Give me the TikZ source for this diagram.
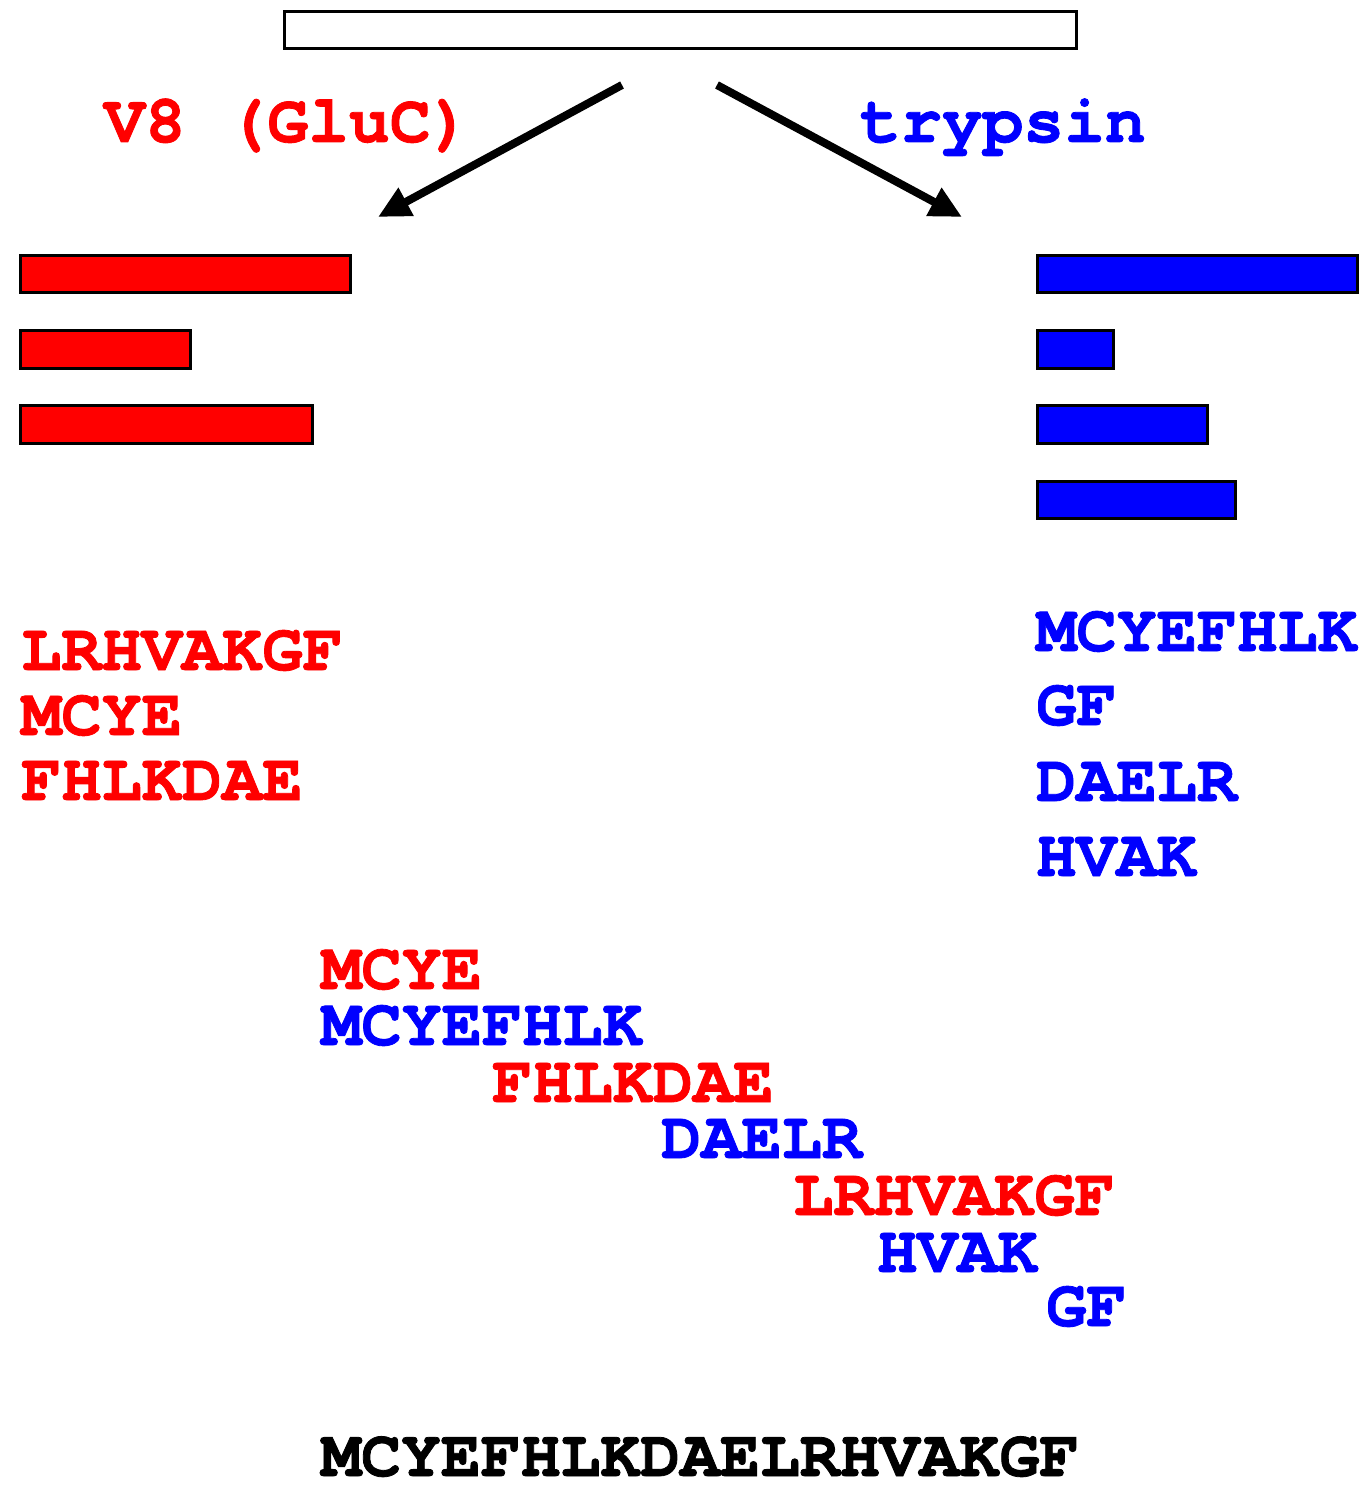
\documentclass[tikz,border=0pt]{standalone}
\usepackage{fontspec}
\usetikzlibrary{arrows.meta}
\newfontfamily\cur{texgyrecursor}[Extension=.otf, UprightFont=*-regular, BoldFont=*-bold, BoldFeatures={FakeBold=1.2}]
\definecolor{vred}{RGB}{255,0,0}
\definecolor{tblue}{RGB}{0,0,255}
\begin{document}
\begin{tikzpicture}[x=1pt,y=-1pt,
  seq/.style={anchor=base west, inner sep=0pt, font=\cur\bfseries\fontsize{67}{67}\selectfont},
  lbl/.style={anchor=base west, inner sep=0pt, font=\cur\bfseries\fontsize{68}{68}\selectfont},
  redseq/.style={seq, text=vred},
  blueseq/.style={seq, text=tblue},
  blackseq/.style={seq, text=black},
  redbar/.style={draw=black, line width=3pt, fill=vred},
  bluebar/.style={draw=black, line width=3pt, fill=tblue},
  cut/.style={line width=8pt, -{Triangle[length=32pt,width=30pt]}}]
\useasboundingbox (0,0) rectangle (1364,1485);
% protein
\node[draw=black, line width=3pt, inner sep=0pt, minimum width=792pt, minimum height=37pt, anchor=north west] (prot) at (283,10) {};
% arrows
\coordinate (sL) at (622,85);
\coordinate (sR) at (717,85);
\coordinate (eL) at (378,217);
\coordinate (eR) at (962,217);
\draw[cut] (sL) -- (eL);
\draw[cut] (sR) -- (eR);
% labels
\node[lbl, text=vred] (v8) at (104,142) {V8 (GluC)};
\node[lbl, text=tblue] (tryp) at (860,142) {trypsin};
% red bars
\draw[redbar] (20,255) rectangle (350,292);
\draw[redbar] (20,330) rectangle (190,368);
\draw[redbar] (20,405) rectangle (312,443);
% blue bars
\draw[bluebar] (1037,255) rectangle (1357,292);
\draw[bluebar] (1037,330) rectangle (1113,368);
\draw[bluebar] (1037,405) rectangle (1207,443);
\draw[bluebar] (1037,481) rectangle (1235,518);
% V8 peptides
\node[redseq] (r1) at (21,670) {LRHVAKGF};
\node[redseq] (r2) at (21,735) {MCYE};
\node[redseq] (r3) at (21,800) {FHLKDAE};
% trypsin peptides
\node[blueseq] (b1) at (1036,651) {MCYEFHLK};
\node[blueseq] (b2) at (1036,725) {GF};
\node[blueseq] (b3) at (1036,801) {DAELR};
\node[blueseq] (b4) at (1036,876) {HVAK};
% overlap
\node[redseq] (o1) at (321,989) {MCYE};
\node[blueseq] (o2) at (321,1045) {MCYEFHLK};
\node[redseq] (o3) at (492,1102) {FHLKDAE};
\node[blueseq] (o4) at (661,1158) {DAELR};
\node[redseq] (o5) at (793,1215) {LRHVAKGF};
\node[blueseq] (o6) at (877,1272) {HVAK};
\node[blueseq] (o7) at (1046,1326) {GF};
% full sequence
\node[blackseq, font=\cur\bfseries\fontsize{66.5}{66.5}\selectfont] (full) at (321,1476) {MCYEFHLKDAELRHVAKGF};
\end{tikzpicture}
\end{document}
